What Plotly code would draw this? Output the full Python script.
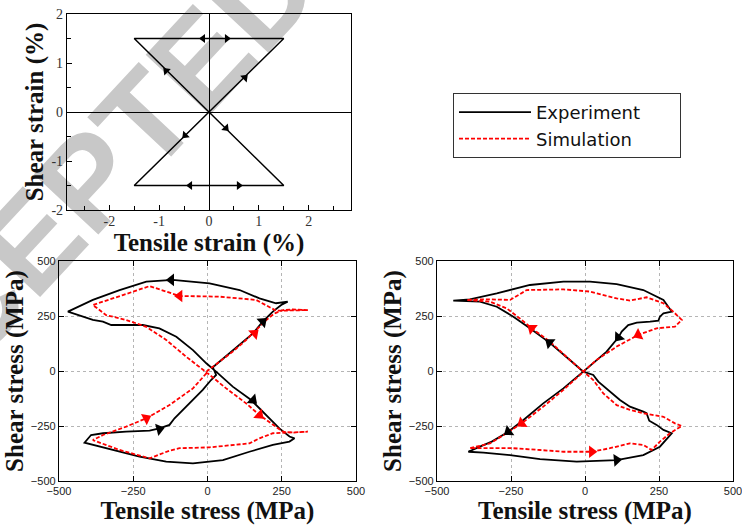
import plotly.graph_objects as go

W, H = 742, 527

# ---------------- data ----------------
# Top: imposed strain path (%)
strain_x = [0, 1.5, -1.5, 1.5, -1.5, 0]
strain_y = [0, 1.5, 1.5, -1.5, -1.5, 0]
strain_arrow_x = [0.72, -0.12, 0.36, -0.86, 0.34, -0.48, -0.38, 0.60]
strain_arrow_y = [0.70, 1.50, 1.50, 0.84, -0.33, -0.48, -1.50, -1.50]
strain_arrow_angle = [45, 270, 90, 315, 135, 225, 270, 90]

# Bottom-left: experiment (MPa)
bl_exp_x = [18, 85, 153, 186, 220, 248, 270, 231, 175, 108, 7, -117, -206, -296, -386, -470,
            -386, -352, -324, -274, -218, -162, -105, -49, -4, 29, 85, 147, 198, 242, 276, 293,
            276, 220, 141, 52, -49, -139, -229, -319, -414,
            -392, -352, -274, -195, -162, -128, -111, -83, -49, -16, 12, 29, 18]
bl_exp_y = [17, 95, 171, 224, 270, 300, 315, 308, 330, 368, 398, 414, 406, 368, 323, 270,
            232, 224, 209, 209, 209, 194, 156, 95, 35, -3, -71, -132, -200, -261, -298, -306,
            -321, -336, -367, -405, -420, -412, -389, -359, -326,
            -291, -283, -276, -271, -261, -245, -215, -177, -132, -86, -41, -18, 17]
bl_exp_arrow_x = [-122, 186, 153, -162]
bl_exp_arrow_y = [414, 224, -132, -264]
bl_exp_arrow_angle = [270, 49, 132, 75]

# Bottom-left: simulation (MPa)
bl_sim_x = [-4, 40, 85, 130, 164, 198, 226, 254, 287, 338, 231, 198, 164, 40, -94, -139, -195,
            -285, -386, -341, -274, -206, -139, -72, -27, 1, 63, 130, 175, 220, 254, 287, 338,
            276, 220, 175, 141, 7, -94, -128, -195, -296, -386, -352, -274, -206, -128, -49, -4]
bl_sim_y = [-3, 42, 88, 141, 186, 232, 262, 277, 280, 277, 274, 300, 323, 338, 341, 361, 386,
            345, 300, 254, 232, 201, 141, 65, 20, -11, -79, -147, -200, -245, -276, -280, -276,
            -280, -283, -306, -329, -347, -351, -362, -397, -359, -314, -291, -253, -215, -155, -79, -11]
bl_sim_arrow_x = [-94, 158, 175, -206]
bl_sim_arrow_y = [341, 171, -200, -215]
bl_sim_arrow_angle = [270, 48, 132, 63]

# Bottom-right: experiment (MPa)
br_exp_x = [-6, -73, -141, -208, -259, -315, -355, -394, -343, -253, -152, -28, 107, 197, 253, 293,
            265, 242, 217, 208, 197, 152, 118, 84, 45, 28, -6, -51, -120, -186, -242, -298, -355, -445,
            -389, -298, -186, -73, 17, 107, 197, 265, 293,
            265, 253, 248, 220, 175, 146, 124, 113, 73, 28, -6]
br_exp_y = [-3, -79, -147, -223, -276, -321, -344, -367, -371, -382, -401, -412, -405, -382, -344, -283,
            -268, -245, -226, -192, -185, -162, -132, -94, -48, -18, -3, 50, 129, 194, 247, 292, 315, 320,
            326, 353, 391, 406, 406, 395, 368, 323, 270,
            262, 247, 229, 224, 220, 209, 179, 153, 88, 35, -3]
br_exp_arrow_x = [-259, 107, -120, 113]
br_exp_arrow_y = [-276, -405, 129, 153]
br_exp_arrow_angle = [233, 85, 308, 219]

# Bottom-right: simulation (MPa)
br_sim_x = [-11, -73, -141, -214, -265, -321, -389, -242, -152, -73, 23, 84, 152, 197, 225, 253, 287, 327,
            304, 265, 197, 152, 107, 62, 28, -6, -51, -118, -180, -220, -265, -321, -400,
            -332, -253, -197, -73, 17, 107, 152, 208, 265, 298, 327,
            304, 242, 180, 107, 39, -6]
br_sim_y = [-11, -86, -162, -238, -283, -329, -351, -351, -359, -367, -367, -351, -329, -336, -359, -321, -283, -250,
            -238, -208, -192, -177, -155, -102, -41, -3, 50, 133, 194, 239, 285, 315, 323,
            326, 323, 368, 371, 361, 330, 320, 335, 308, 270, 232,
            202, 194, 164, 111, 50, -3]
br_sim_arrow_x = [-214, 23, -180, 180]
br_sim_arrow_y = [-238, -367, 194, 164]
br_sim_arrow_angle = [234, 90, 308, 245]

legend_names = ["Experiment", "Simulation"]
stress_ticks = [-500, -250, 0, 250, 500]

# ---------------- figure ----------------
BLACK = "#000000"
RED = "#ff0000"
fig = go.Figure()

fig.add_trace(go.Scatter(x=strain_x, y=strain_y, mode="lines", line=dict(color=BLACK, width=1.5),
                         xaxis="x", yaxis="y", showlegend=False, hoverinfo="skip"))
fig.add_trace(go.Scatter(x=strain_arrow_x, y=strain_arrow_y, mode="markers",
                         marker=dict(symbol="triangle-up", size=8, color=BLACK, angle=strain_arrow_angle,
                                     line=dict(width=0)),
                         xaxis="x", yaxis="y", showlegend=False, hoverinfo="skip"))

# pad the longest legend label so the legend box is as wide as the original
PAD = "\u00a0" * 6

def add_panel(xa, ya, ex, ey, eax, eay, eang, sx, sy, sax, say, sang, show):
    fig.add_trace(go.Scatter(x=ex, y=ey, mode="lines", name=legend_names[0] + PAD, legendgroup="exp",
                             showlegend=show, line=dict(color=BLACK, width=1.8),
                             xaxis=xa, yaxis=ya))
    fig.add_trace(go.Scatter(x=sx, y=sy, mode="lines", name=legend_names[1], legendgroup="sim",
                             showlegend=show, line=dict(color=RED, width=1.8, dash="4px,2px"),
                             xaxis=xa, yaxis=ya))
    fig.add_trace(go.Scatter(x=eax, y=eay, mode="markers", showlegend=False, legendgroup="exp",
                             marker=dict(symbol="triangle-up", size=11, color=BLACK, angle=eang,
                                         line=dict(width=0)),
                             xaxis=xa, yaxis=ya, hoverinfo="skip"))
    fig.add_trace(go.Scatter(x=sax, y=say, mode="markers", showlegend=False, legendgroup="sim",
                             marker=dict(symbol="triangle-up", size=11, color=RED, angle=sang,
                                         line=dict(width=0)),
                             xaxis=xa, yaxis=ya, hoverinfo="skip"))

add_panel("x2", "y2", bl_exp_x, bl_exp_y, bl_exp_arrow_x, bl_exp_arrow_y, bl_exp_arrow_angle,
          bl_sim_x, bl_sim_y, bl_sim_arrow_x, bl_sim_arrow_y, bl_sim_arrow_angle, True)
add_panel("x3", "y3", br_exp_x, br_exp_y, br_exp_arrow_x, br_exp_arrow_y, br_exp_arrow_angle,
          br_sim_x, br_sim_y, br_sim_arrow_x, br_sim_arrow_y, br_sim_arrow_angle, False)

def px_x(p):
    return p / W

def px_y(p):
    return 1 - p / H

TITLE_FONT = dict(family="Liberation Serif", size=25, color="#111111", weight="bold")
SERIF_TICK = dict(family="Liberation Serif", size=14, color="#333333")
SANS_TICK = dict(family="Liberation Sans", size=11, color="#222222")

top_common = dict(showline=True, linecolor=BLACK, linewidth=1.2, mirror=True, ticks="inside",
                  ticklen=5, tickcolor=BLACK, showgrid=False, zeroline=True, zerolinecolor=BLACK,
                  zerolinewidth=1, tickfont=SERIF_TICK, automargin=False)
fig.update_layout(
    xaxis=dict(domain=[px_x(67), px_x(351)], anchor="y", range=[-2.85, 2.85],
               tickvals=[-2, -1, 0, 1, 2], ticktext=["-2", "-1", "0", "1", "2"],
               minor=dict(dtick=0.5, tick0=0, ticks="inside", ticklen=4, tickcolor=BLACK),
               ticklabelstandoff=-2,
               title=dict(text="Tensile strain (%)", font=TITLE_FONT, standoff=0), **top_common),
    yaxis=dict(domain=[px_y(210), px_y(14)], anchor="x", range=[-2, 2],
               tickvals=[-2, -1, 0, 1, 2], ticktext=["-2", "-1", "0", "1", "2"],
               minor=dict(dtick=0.5, tick0=0, ticks="inside", ticklen=4, tickcolor=BLACK),
               title=dict(text="Shear strain (%)", font=TITLE_FONT, standoff=0), **top_common),
)

bot_common = dict(showline=True, linecolor=BLACK, linewidth=1.3, mirror="allticks", ticks="inside",
                  ticklen=5, tickcolor=BLACK, showgrid=True, gridcolor="#b5b5b5", griddash="dot",
                  gridwidth=1, zeroline=False, tickfont=SANS_TICK, automargin=False,
                  range=[-500, 500], tickvals=stress_ticks, ticklabeloverflow="allow")
fig.update_layout(
    xaxis2=dict(domain=[px_x(59), px_x(356)], anchor="y2",
                title=dict(text="Tensile stress (MPa)", font=TITLE_FONT, standoff=1), **bot_common),
    yaxis2=dict(domain=[px_y(481), px_y(261)], anchor="x2",
                title=dict(text="Shear stress (MPa)", font=TITLE_FONT, standoff=0), **bot_common),
    xaxis3=dict(domain=[px_x(437), px_x(733)], anchor="y3",
                title=dict(text="Tensile stress (MPa)", font=TITLE_FONT, standoff=1), **bot_common),
    yaxis3=dict(domain=[px_y(481), px_y(261)], anchor="x3",
                title=dict(text="Shear stress (MPa)", font=TITLE_FONT, standoff=0), **bot_common),
)

# faint "ACCEPTED" watermark behind the plots
fig.add_shape(type="line", xref="paper", yref="paper", layer="below",
              x0=px_x(10), y0=px_y(247), x1=px_x(78), y1=px_y(173),
              line=dict(width=0, color="rgba(0,0,0,0)"),
              label=dict(text="ACCEPTED", textangle=-47, textposition="middle",
                         xanchor="center", yanchor="middle",
                         font=dict(family="Liberation Sans", size=128, color="#c8c8c8", weight="bold")))

fig.update_layout(
    width=W, height=H, margin=dict(l=0, r=0, t=0, b=0),
    paper_bgcolor="white", plot_bgcolor="rgba(0,0,0,0)",
    showlegend=True,
    legend=dict(x=px_x(453), y=px_y(93), xanchor="left", yanchor="top",
                bgcolor="white", bordercolor="#333333", borderwidth=1,
                font=dict(family="DejaVu Sans", size=18, color="#111111"),
                itemwidth=72, tracegroupgap=0),
)

fig.write_html("out.html", config={"displayModeBar": False},
               post_script="document.body.style.margin='0';document.body.style.overflow='hidden';")
